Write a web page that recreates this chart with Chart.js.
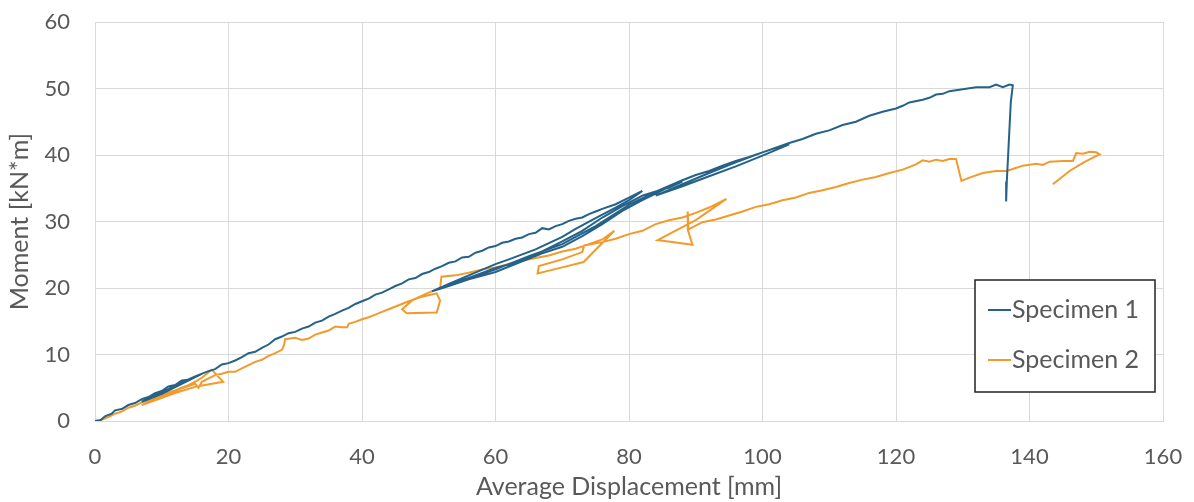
<!DOCTYPE html>
<html>
<head>
<meta charset="utf-8">
<script src="https://cdn.jsdelivr.net/npm/chart.js@4"></script>
<style>
  html, body { margin: 0; padding: 0; background: #fff; }
  #wrap { width: 1194px; height: 502px; position: relative; }
</style>
</head>
<body>
<div id="wrap"><canvas id="moment-chart"></canvas></div>
<script>
const seriesNames = ["Specimen 1", "Specimen 2"];
const seriesColors = ["#24628A", "#F39A2C"];
const xTicks = [0, 20, 40, 60, 80, 100, 120, 140, 160];
const yTicks = [0, 10, 20, 30, 40, 50, 60];

// Specimen 1 - displacement [mm]
const s1X = [
  0, 0.8, 1.5, 2.5, 3, 4, 5, 6, 7, 8, 9, 10, 11, 12, 13, 14, 15, 16,
  13, 10, 7,
  9, 11, 13, 15, 17,
  18, 19, 20, 21, 22, 23, 24, 25, 26, 27, 28, 29, 30, 31, 32, 33, 34, 35, 36, 37, 38, 39, 40,
  41, 42, 43, 44, 45, 46, 47, 48, 49, 50, 51, 52, 53, 54, 55, 56, 57, 58, 59, 60,
  61, 62, 63, 64, 65, 66, 67, 68, 69, 70, 71, 72, 73, 74, 75, 76, 78, 80, 82,
  80, 78, 75, 72, 70, 66, 62, 60, 56, 53, 50.5,
  53, 56, 60, 64, 67, 70, 73, 76, 79, 82, 84, 86, 88,
  86, 84, 82, 79, 76, 73, 70, 66, 63, 60, 57, 54, 51.5,
  55, 60, 65, 70, 75, 80, 84, 88, 90, 92, 94, 96, 98, 100, 102, 104,
  100, 96, 92, 88, 84,
  88, 92, 96, 100, 104,
  106, 108, 110, 112, 114, 116, 118, 120, 121, 122, 124, 125, 126, 127, 128, 130, 132, 134, 135, 136, 137, 137.5,
  137.2, 137, 136.8, 136.6, 136.5
];
// Specimen 1 - moment [kN*m]
const s1Y = [
  0, 0.1, 0.7, 1.1, 1.6, 1.8, 2.4, 2.7, 3.3, 3.6, 4.2, 4.5, 5.2, 5.4, 6.1, 6.2, 6.6, 7.1,
  5.6, 4.1, 2.9,
  3.9, 4.8, 5.8, 6.7, 7.5,
  7.8, 8.5, 8.7, 9.1, 9.6, 10.2, 10.4, 11, 11.5, 12.3, 12.7, 13.2, 13.4, 13.9, 14.2, 14.8, 15.1, 15.7, 16.1, 16.6, 17, 17.6, 18,
  18.4, 19, 19.3, 19.8, 20.3, 20.7, 21.3, 21.5, 22.1, 22.4, 22.9, 23.3, 23.8, 24, 24.6, 24.7, 25.3, 25.6, 26.1, 26.3,
  26.8, 27, 27.4, 27.6, 28.1, 28.3, 29, 28.8, 29.3, 29.6, 30.1, 30.4, 30.6, 31.1, 31.5, 31.9, 32.6, 33.6, 34.6,
  33.2, 32.1, 30.5, 28.9, 27.7, 25.8, 24.3, 23.6, 21.9, 20.6, 19.5,
  20.3, 21.3, 22.4, 24, 25.2, 26.2, 27.8, 29.6, 31.6, 33.2, 34.2, 35.2, 36,
  35.1, 34.5, 33.9, 32.3, 30.6, 28.6, 27, 25, 23.8, 23, 21.9, 20.8, 19.8,
  21.1, 22.8, 24.8, 26.6, 29.3, 32.5, 34.5, 36.2, 37, 37.6, 38.4, 39.1, 39.7, 40.4, 41.1, 41.6,
  39.9, 38.3, 36.8, 35.3, 33.9,
  35.6, 37.3, 38.9, 40.4, 41.8,
  42.4, 43.2, 43.7, 44.5, 45, 45.9, 46.5, 47, 47.4, 47.9, 48.3, 48.6, 49.1, 49.2, 49.6, 49.9, 50.2, 50.2, 50.6, 50.2, 50.6, 50.5,
  48, 44, 40, 36, 33
];

// Specimen 2 - displacement [mm]
const s2X = [
  0, 1, 2, 3, 4, 5, 6, 7, 8, 9, 10, 11, 12, 13, 14, 15, 16, 17.5,
  19.2, 15.2, 12, 9, 7,
  9, 11, 13, 15, 15.5, 16, 18, 19, 20, 21, 22, 23, 24, 25, 26, 27, 28, 28.3, 28.5,
  30, 31, 32, 33, 34, 35, 36, 37, 37.8, 38, 39, 40, 41, 42, 43, 44, 45.5,
  47, 48.7, 51.2, 51.7, 51.2, 46.7, 46, 47.6, 50, 51.7, 51.9,
  54, 56, 58, 60, 62, 64, 66, 68, 70, 72, 74, 76, 77.8,
  73.2, 70, 66.3, 66.5, 70, 73, 73.3,
  76, 78, 80, 82, 84, 86, 88, 90, 92, 94.6,
  90, 86, 84.3, 86.5, 89.5, 88.8, 88.8, 88.9,
  91, 93, 95, 97, 99, 101, 103, 105, 107, 109, 111, 113, 115, 117, 119, 121, 123, 124, 125, 126, 127, 128, 129,
  129.8, 131, 133, 135, 136.5, 137.5, 139, 141, 142, 143, 145, 146.5, 147, 148, 149, 150, 150.5,
  149.5, 148, 146, 143.5
];
// Specimen 2 - moment [kN*m]
const s2Y = [
  0, 0.2, 0.6, 1.1, 1.4, 2, 2.3, 2.8, 3.1, 3.6, 3.9, 4.3, 4.6, 5, 5.4, 5.9, 6.5, 7.7,
  5.9, 5.2, 4.2, 3.1, 2.4,
  3.3, 4.1, 4.9, 5.6, 5, 5.9, 6.9, 7.1, 7.4, 7.4, 7.9, 8.4, 8.9, 9.2, 9.8, 10.2, 10.7, 11.4, 12.3,
  12.5, 12.2, 12.4, 13, 13.3, 13.6, 14.2, 14.1, 14.1, 14.6, 14.9, 15.3, 15.6, 16, 16.4, 16.8, 17.4,
  18, 18.6, 19.2, 18.1, 16.3, 16.2, 16.8, 18.2, 19.3, 20, 21.7,
  21.9, 22.3, 22.8, 23.1, 23.6, 24.1, 24.5, 24.9, 25.5, 25.9, 26.6, 27.3, 28.6,
  23.9, 23.1, 22.2, 23.3, 24.3, 25.4, 26.4,
  26.9, 27.4, 28.1, 28.6, 29.6, 30.2, 30.6, 31.3, 32.1, 33.4,
  30.2, 28.1, 27.2, 26.9, 26.5, 28.8, 31.5, 28.8,
  29.9, 30.3, 30.9, 31.5, 32.2, 32.6, 33.2, 33.6, 34.3, 34.7, 35.2, 35.8, 36.3, 36.7, 37.3, 37.8, 38.6, 39.2, 39, 39.3, 39.1, 39.4, 39.4,
  36.1, 36.6, 37.3, 37.6, 37.6, 37.9, 38.4, 38.7, 38.5, 39, 39.1, 39.1, 40.3, 40.2, 40.5, 40.4, 40.1,
  39.6, 38.8, 37.6, 35.6
];

const toPoints = (xs, ys) => xs.map((x, i) => ({ x: x, y: ys[i] }));

// legend box drawn inside the plot, like the spreadsheet original
const boxLegend = {
    id: 'boxLegend',
    afterDraw(chart) {
        const ctx = chart.ctx;
        const area = chart.chartArea;
        const w = 180, h = 112;
        const left = area.right - 188, top = area.top + 258;
        ctx.save();
        ctx.fillStyle = '#ffffff';
        ctx.fillRect(left, top, w, h);
        ctx.strokeStyle = '#222222';
        ctx.lineWidth = 1.5;
        ctx.strokeRect(left, top, w, h);
        ctx.font = '25px Lato';
        ctx.textBaseline = 'middle';
        seriesNames.forEach((name, i) => {
            const yMid = top + 30 + i * 50;
            ctx.strokeStyle = seriesColors[i];
            ctx.lineWidth = 2;
            ctx.beginPath();
            ctx.moveTo(left + 13, yMid);
            ctx.lineTo(left + 36, yMid);
            ctx.stroke();
            ctx.fillStyle = '#595959';
            ctx.fillText(name, left + 37, yMid);
        });
        ctx.restore();
    }
};

new Chart(document.getElementById("moment-chart"), {
    type: 'scatter',
    data: {
        datasets: [{
            label: seriesNames[0],
            data: toPoints(s1X, s1Y),
            borderColor: seriesColors[0],
            backgroundColor: seriesColors[0],
        }, {
            label: seriesNames[1],
            data: toPoints(s2X, s2Y),
            borderColor: seriesColors[1],
            backgroundColor: seriesColors[1],
        }].map(ds => Object.assign(ds, {
            showLine: true,
            borderWidth: 2,
            pointRadius: 0,
            tension: 0,
        }))
    },
    options: {
        responsive: true,
        maintainAspectRatio: false,
        animation: false,
        layout: {
            padding: { top: 22, right: 31, left: 0, bottom: 0 }
        },
        plugins: {
            legend: { display: false },
            tooltip: { enabled: false }
        },
        scales: {
            x: {
                type: 'linear',
                min: xTicks[0],
                max: xTicks[xTicks.length - 1],
                afterBuildTicks: (axis) => { axis.ticks = xTicks.map(v => ({ value: v })); },
                afterFit: (axis) => {
                    axis.height = 81;
                    axis.paddingLeft = 0;
                    axis.paddingRight = 0;
                },
                grid: { color: '#d9d9d9', lineWidth: 1, drawTicks: false },
                border: { color: '#d9d9d9' },
                ticks: {
                    color: '#595959',
                    padding: 23,
                    font: { family: 'Lato', size: 22 }
                },
                title: {
                    display: true,
                    text: 'Average Displacement [mm]',
                    color: '#595959',
                    padding: { top: 0, bottom: 0 },
                    font: { family: 'Lato', size: 25 }
                }
            },
            y: {
                min: yTicks[0],
                max: yTicks[yTicks.length - 1],
                afterBuildTicks: (axis) => { axis.ticks = yTicks.map(v => ({ value: v })); },
                afterFit: (axis) => {
                    axis.width = 95;
                    axis.paddingTop = 0;
                    axis.paddingBottom = 0;
                },
                grid: { color: '#d9d9d9', lineWidth: 1, drawTicks: false },
                border: { color: '#d9d9d9' },
                ticks: {
                    color: '#595959',
                    padding: 25,
                    font: { family: 'Lato', size: 22 }
                },
                title: {
                    display: true,
                    text: 'Moment [kN*m]',
                    color: '#595959',
                    padding: { top: 5 },
                    font: { family: 'Lato', size: 25 }
                }
            }
        }
    },
    plugins: [boxLegend]
});
</script>
</body>
</html>
